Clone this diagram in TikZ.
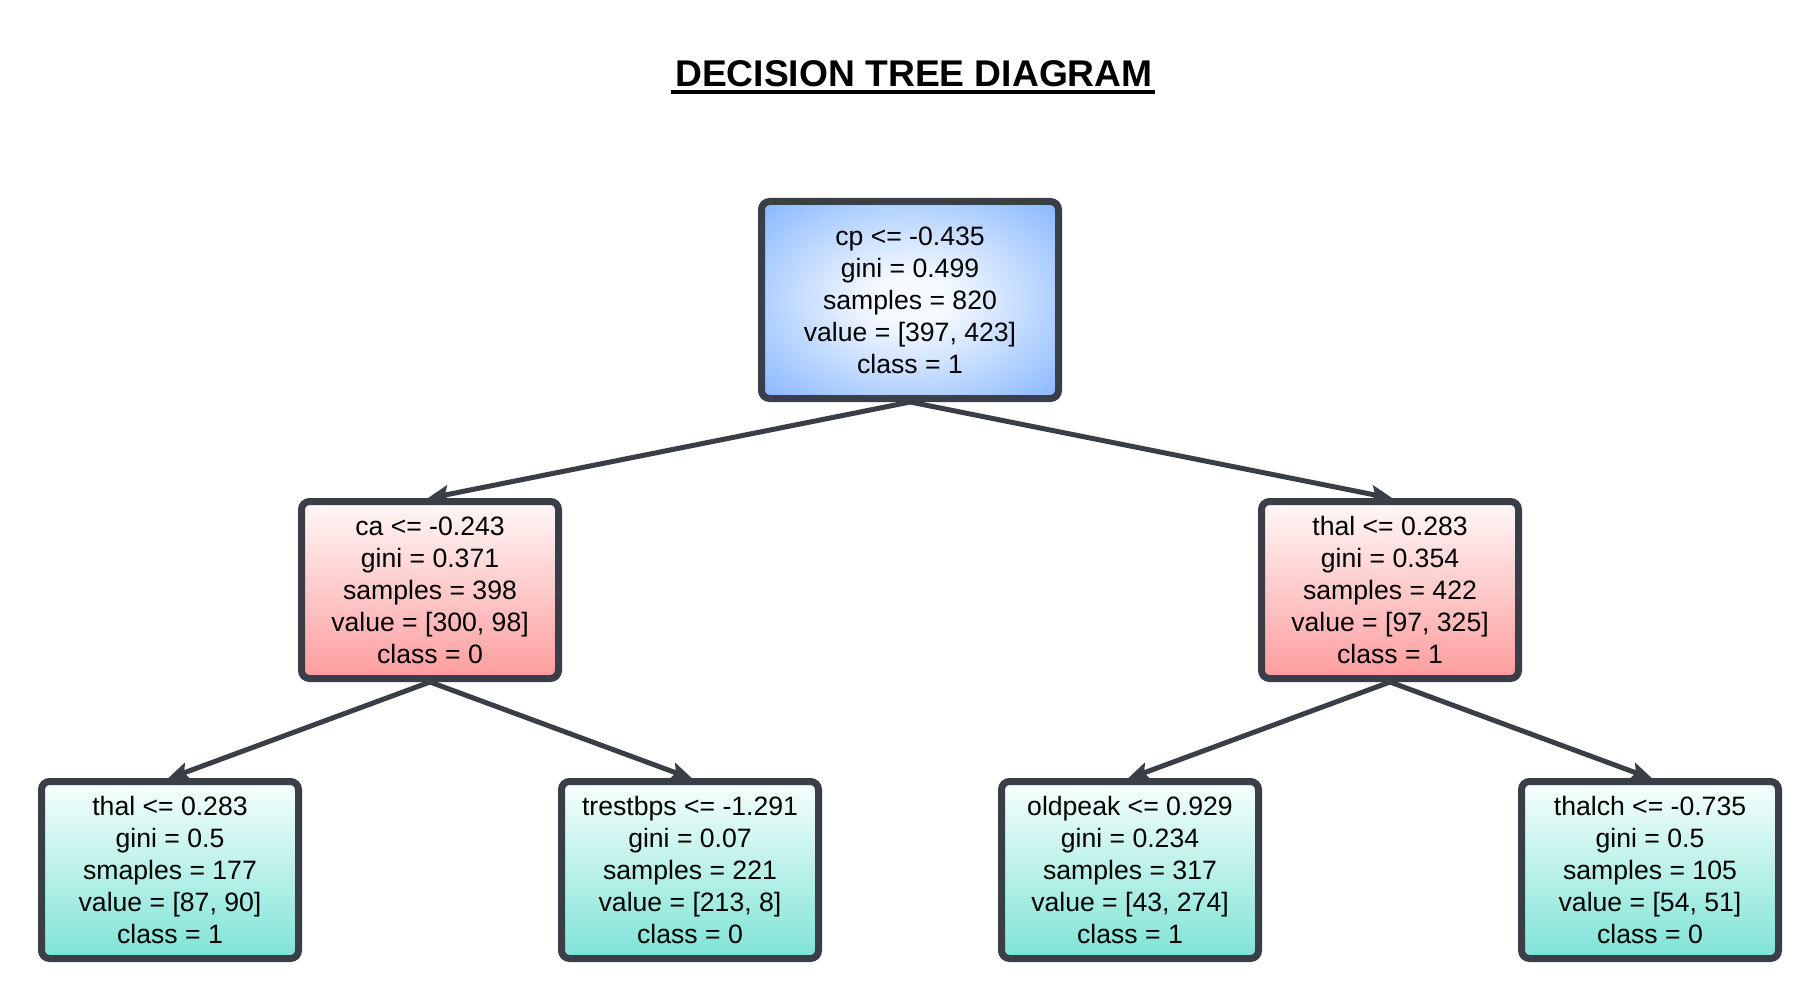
\documentclass[tikz,border=0pt]{standalone}
\usepackage{fontspec}
\setmainfont{Liberation Sans}
\usetikzlibrary{arrows.meta,positioning}
\definecolor{edgegray}{HTML}{3A3F47}
\definecolor{rootout}{HTML}{84B5FF}
\definecolor{rootin}{HTML}{F6FAFF}
\definecolor{redbot}{HTML}{FC9C9C}
\definecolor{redtop}{HTML}{FFF8F8}
\definecolor{tealbot}{HTML}{7EE3D5}
\definecolor{tealtop}{HTML}{F6FFFD}
\pgfdeclareradialshading{rootshade}{\pgfpoint{0bp}{0bp}}{color(0bp)=(rootin); color(6bp)=(rootin); color(36bp)=(rootout); color(50bp)=(rootout)}
\tikzset{
  treebox/.style={draw=edgegray, line width=3.5pt, rounded corners=4pt,
    align=center, inner sep=0pt, text=black,
    font=\fontsize{13.3}{16}\selectfont},
  rootbox/.style={treebox, minimum width=148.5pt, minimum height=98.5pt,
    shading=rootshade},
  midbox/.style={treebox, minimum width=128.5pt, minimum height=88.5pt,
    top color=redtop, bottom color=redbot},
  leafbox/.style={treebox, minimum width=128.5pt, minimum height=88.5pt,
    top color=tealtop, bottom color=tealbot},
  conn/.style={draw=edgegray, line width=2.5pt,
    -{Stealth[length=11pt,width=9pt,inset=2pt]}, shorten >=-1.5pt}
}
\begin{document}
\begin{tikzpicture}[x=0.5pt,y=-0.5pt]
\useasboundingbox[fill=white] (0,0) rectangle (1820,1000);
\node[anchor=base, inner sep=0pt, font=\fontsize{18.6}{22}\selectfont\bfseries] (title) at (914,87) {DECISION TREE DIAGRAM};
\draw[line width=2pt, black] ([xshift=-2pt,yshift=-2.5pt]title.base west) -- ([xshift=1pt,yshift=-2.5pt]title.base east);

\node[rootbox] (root) at (910,300) {cp <= -0.435\\gini = 0.499\\samples = 820\\value = [397, 423]\\class = 1};
\node[midbox] (ml) at (430,590) {ca <= -0.243\\gini = 0.371\\samples = 398\\value = [300, 98]\\class = 0};
\node[midbox] (mr) at (1390,590) {thal <= 0.283\\gini = 0.354\\samples = 422\\value = [97, 325]\\class = 1};
\node[leafbox] (l1) at (170,870) {thal <= 0.283\\gini = 0.5\\smaples = 177\\value = [87, 90]\\class = 1};
\node[leafbox] (l2) at (690,870) {trestbps <= -1.291\\gini = 0.07\\samples = 221\\value = [213, 8]\\class = 0};
\node[leafbox] (l3) at (1130,870) {oldpeak <= 0.929\\gini = 0.234\\samples = 317\\value = [43, 274]\\class = 1};
\node[leafbox] (l4) at (1650,870) {thalch <= -0.735\\gini = 0.5\\samples = 105\\value = [54, 51]\\class = 0};

\draw[conn] (root.south) -- (ml.north);
\draw[conn] (root.south) -- (mr.north);
\draw[conn] (ml.south) -- (l1.north);
\draw[conn] (ml.south) -- (l2.north);
\draw[conn] (mr.south) -- (l3.north);
\draw[conn] (mr.south) -- (l4.north);
\end{tikzpicture}
\end{document}
